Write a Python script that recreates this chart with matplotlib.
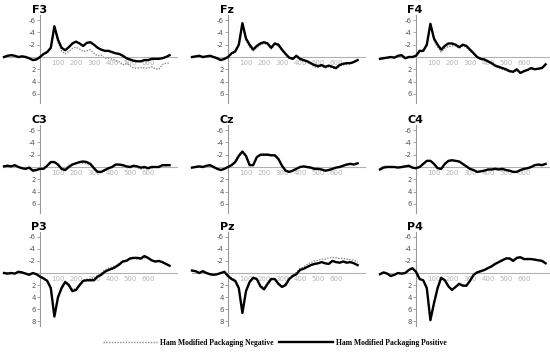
import numpy as np
import matplotlib
matplotlib.use("Agg")
import matplotlib.pyplot as plt

plt.rcParams['axes.unicode_minus'] = False

# sampling times (ms)
time = np.arange(-200, 721, 20)

channels = ["F3", "Fz", "F4", "C3", "Cz", "C4", "P3", "Pz", "P4"]

# Ham Modified Packaging Positive (solid)
pos = {
    "F3": [0.0,-0.2,-0.3,-0.2,0.0,-0.1,0.0,0.2,0.5,0.4, 0.0,-0.5,-0.8,-1.5,-5.0,-2.8,-1.5,-1.1,-1.6,-2.2,
           -2.5,-2.2,-1.8,-2.3,-2.4,-2.0,-1.5,-1.2,-1.0,-1.0, -0.8,-0.6,-0.5,-0.2,0.2,0.4,0.6,0.7,0.7,0.5,
           0.5,0.3,0.3,0.3,0.2,0.0,-0.3],
    "Fz": [0.0,-0.1,-0.2,0.0,-0.1,-0.2,0.0,0.2,0.5,0.3, 0.0,-0.6,-0.9,-2.0,-5.5,-3.0,-2.0,-1.2,-1.8,-2.2,
           -2.4,-2.2,-1.5,-2.2,-2.0,-1.2,-0.5,0.1,0.3,-0.2, 0.3,0.5,0.7,1.0,1.3,1.5,1.3,1.6,1.4,1.6,
           1.8,1.3,1.1,1.0,1.0,0.8,0.5],
    "F4": [0.3,0.2,0.1,0.0,0.1,-0.2,-0.3,0.2,0.0,0.0, -0.2,-1.0,-1.0,-2.0,-5.4,-3.0,-2.0,-1.2,-1.8,-2.2,
           -2.2,-2.0,-1.6,-2.0,-1.8,-1.2,-0.6,0.0,0.3,0.4, 0.7,1.0,1.4,1.6,1.8,2.0,2.3,2.4,2.0,2.6,
           2.3,2.1,1.8,2.0,1.9,1.8,1.2],
    "C3": [-0.1,-0.2,-0.1,-0.3,0.0,0.2,0.3,0.1,0.6,0.5, 0.3,0.3,-0.2,-0.8,-0.8,-0.4,0.3,0.5,0.0,-0.4,
           -0.6,-0.8,-0.9,-0.8,-0.5,0.2,0.8,0.8,0.5,0.2, 0.0,-0.4,-0.4,-0.3,-0.1,0.0,-0.2,-0.1,0.1,0.0,
           0.2,0.0,0.0,0.0,-0.3,-0.3,-0.3],
    "Cz": [0.1,0.0,-0.1,0.0,-0.2,-0.3,0.0,0.3,0.5,0.3, 0.0,-0.3,-0.8,-1.8,-2.5,-1.8,-0.3,-0.3,-1.6,-2.0,
           -2.0,-2.0,-1.9,-1.9,-1.3,-0.2,0.6,0.8,0.6,0.3, 0.0,-0.1,0.0,0.1,0.3,0.3,0.4,0.6,0.5,0.3,
           0.1,0.0,-0.2,-0.4,-0.5,-0.4,-0.6],
    "C4": [0.4,0.1,0.0,0.0,0.0,0.1,0.0,-0.1,-0.2,0.1, 0.2,0.0,-0.5,-1.0,-1.0,-0.5,0.2,0.3,-0.5,-1.0,
           -1.1,-1.0,-0.9,-0.5,-0.1,0.3,0.5,0.8,0.7,0.6, 0.4,0.4,0.3,0.4,0.3,0.5,0.6,0.8,0.8,0.5,
           0.3,0.2,0.0,-0.3,-0.4,-0.3,-0.5],
    "P3": [0.0,0.1,0.0,0.1,-0.2,-0.1,0.1,0.3,0.0,0.2, 0.6,0.9,1.3,2.5,7.2,4.0,2.5,1.5,2.0,3.0,
           2.8,2.0,1.3,1.2,1.2,1.2,0.6,0.3,-0.2,-0.5, -0.7,-1.0,-1.4,-1.9,-2.0,-2.4,-2.5,-2.5,-2.4,-2.8,
           -2.5,-2.1,-1.9,-2.0,-1.8,-1.5,-1.2],
    "Pz": [-0.4,-0.3,0.0,-0.3,0.0,0.2,0.3,0.2,0.0,-0.2, 0.5,1.0,1.3,2.5,6.6,3.0,1.5,0.8,1.0,2.2,
           2.7,1.8,1.0,1.0,1.8,2.3,2.0,1.0,0.5,0.2, -0.5,-0.7,-1.0,-1.3,-1.5,-1.6,-1.8,-1.6,-1.5,-2.0,
           -1.8,-1.7,-1.9,-1.7,-1.8,-1.6,-1.3],
    "P4": [0.2,-0.1,0.1,0.5,0.3,0.0,0.1,0.0,-0.5,-0.8, -0.2,1.0,1.2,2.5,7.8,5.0,2.5,0.8,1.2,2.2,
           2.8,2.3,1.8,2.1,2.1,1.3,0.3,-0.1,-0.3,-0.5, -0.8,-1.1,-1.5,-1.8,-2.1,-2.4,-2.4,-2.0,-2.5,-2.6,
           -2.3,-2.3,-2.3,-2.2,-2.1,-2.0,-1.6],
}

# Ham Modified Packaging Negative (dotted)
neg = {
    "F3": [0.1,-0.1,-0.3,-0.1,0.1,-0.2,-0.1,0.3,0.4,0.3, 0.0,-0.4,-0.7,-1.6,-4.8,-2.4,-1.0,-0.5,-0.9,-1.4,
           -1.6,-1.3,-0.9,-1.0,-1.2,-0.6,-0.2,-0.3,0.2,0.2, 0.3,0.6,0.8,1.3,1.0,1.4,1.8,1.8,1.7,1.8,
           1.8,1.6,1.9,2.0,1.2,1.0,1.0],
    "Fz": [0.1,0.0,-0.2,0.1,0.0,-0.1,0.1,0.3,0.6,0.4, 0.1,-0.5,-0.8,-1.9,-5.3,-2.7,-1.6,-1.0,-1.5,-2.0,
           -2.2,-2.0,-1.3,-2.0,-1.8,-1.0,-0.4,0.2,0.4,0.0, 0.5,0.7,0.9,1.2,1.6,1.7,1.5,1.8,1.6,1.8,
           1.9,1.5,1.3,1.2,1.1,0.9,0.6],
    "F4": [0.3,0.2,0.2,0.1,0.1,-0.1,-0.2,0.2,0.1,0.0, -0.1,-0.8,-0.9,-1.8,-5.2,-2.7,-1.6,-0.8,-1.4,-1.7,
           -1.8,-1.8,-1.4,-1.8,-1.6,-1.0,-0.5,0.1,0.4,0.6, 0.8,1.1,1.5,1.8,2.0,2.2,2.4,2.5,2.2,2.6,
           2.3,2.1,1.9,2.0,1.9,1.8,1.3],
    "C3": [-0.1,-0.3,-0.2,-0.2,0.0,0.1,0.2,0.1,0.4,0.4, 0.2,0.2,-0.3,-0.9,-0.9,-0.3,0.2,0.2,-0.3,-0.5,
           -0.6,-0.7,-0.6,-0.5,-0.3,0.3,0.8,0.8,0.6,0.3, 0.1,-0.3,-0.3,-0.2,0.1,0.1,0.0,0.1,0.3,0.2,
           0.3,0.2,0.0,-0.1,-0.3,-0.2,-0.3],
    "Cz": [0.1,-0.1,-0.2,0.0,-0.1,-0.2,0.1,0.3,0.4,0.3, 0.0,-0.4,-1.0,-2.0,-2.7,-1.9,-0.5,-0.4,-1.5,-2.0,
           -2.1,-2.1,-2.0,-1.9,-1.4,-0.3,0.5,0.7,0.5,0.2, 0.0,-0.1,0.1,0.2,0.4,0.4,0.5,0.6,0.4,0.3,
           0.1,-0.1,-0.3,-0.5,-0.6,-0.5,-0.7],
    "C4": [0.3,-0.2,-0.1,-0.1,0.0,0.0,0.1,0.0,-0.1,0.1, 0.2,0.0,-0.4,-0.9,-1.1,-0.6,0.1,0.3,-0.4,-0.9,
           -1.0,-1.0,-0.8,-0.5,0.0,0.3,0.6,0.8,0.7,0.5, 0.5,0.4,0.4,0.4,0.4,0.5,0.6,0.7,0.7,0.5,
           0.3,0.1,-0.1,-0.3,-0.4,-0.4,-0.5],
    "P3": [0.0,0.0,0.1,0.0,-0.1,0.0,0.1,0.2,0.1,0.2, 0.5,0.8,1.2,2.3,7.0,3.8,2.2,1.3,1.8,2.7,
           2.6,1.8,1.2,1.0,1.0,0.9,0.4,0.0,-0.5,-0.8, -1.0,-1.2,-1.6,-2.0,-2.2,-2.3,-2.4,-2.3,-2.2,-2.5,
           -2.4,-2.1,-1.8,-1.9,-1.7,-1.4,-1.1],
    "Pz": [-0.4,-0.3,-0.1,-0.2,0.1,0.3,0.4,0.2,0.0,-0.1, 0.4,0.8,1.1,2.3,6.4,2.8,1.3,0.7,0.9,2.0,
           2.5,1.6,0.9,0.9,1.6,2.1,1.8,0.8,0.3,-0.1, -0.7,-1.0,-1.4,-1.7,-2.0,-2.1,-2.3,-2.3,-2.5,-2.6,
           -2.5,-2.4,-2.4,-2.3,-2.2,-2.1,-1.8],
    "P4": [0.2,0.0,0.1,0.4,0.3,0.1,0.1,0.0,-0.4,-0.7, -0.2,0.9,1.2,2.4,7.6,4.8,2.3,0.7,1.1,2.1,
           2.7,2.2,1.7,2.0,2.0,1.2,0.2,-0.2,-0.4,-0.6, -0.9,-1.2,-1.6,-1.9,-2.2,-2.5,-2.5,-2.2,-2.6,-2.7,
           -2.4,-2.4,-2.4,-2.3,-2.2,-2.1,-1.7],
}

xticks = [100, 200, 300, 400, 500, 600]
yticks_top = [-6, -4, -2, 2, 4, 6]
yticks_bot = [-6, -4, -2, 2, 4, 6, 8]

W, H = 550, 353
fig = plt.figure(figsize=(5.5, 3.53), dpi=100)

x_lo, x_hi, ppms = -210, 760, 0.18
col_zero = [40, 228, 416]
# row: (pixel of zero line, px per uV, top limit, bottom limit)
rows = [(57, 6.15, -6.8, 7.5), (167, 6.15, -6.8, 7.5), (273, 6.05, -6.8, 8.8)]

line_pos = line_neg = None
for i, ch in enumerate(channels):
    r, c = divmod(i, 3)
    z, ppu, ytop, ybot = rows[r]
    left = col_zero[c] + x_lo * ppms
    top = z + ytop * ppu
    bot = z + ybot * ppu
    ax = fig.add_axes([left / W, 1 - bot / H, (x_hi - x_lo) * ppms / W, (bot - top) / H])

    line_neg, = ax.plot(time, neg[ch], color='#8c8c8c', lw=1.0, ls=(0, (1, 1)), zorder=2)
    line_pos, = ax.plot(time, pos[ch], color='black', lw=1.7, zorder=3)

    ax.set_xlim(x_lo, x_hi)
    ax.set_ylim(ybot, ytop)
    for s in ['top', 'right']:
        ax.spines[s].set_visible(False)
    ax.spines['left'].set_position(('data', 0))
    ax.spines['bottom'].set_position(('data', 0))
    ax.spines['left'].set_color('#9a9a9a')
    ax.spines['bottom'].set_color('#b0b0b0')
    ax.spines['bottom'].set_bounds(-200, x_hi)

    ax.set_xticks(xticks)
    ax.set_xticklabels([str(t) for t in xticks])
    ax.tick_params(axis='x', length=0, pad=2, labelsize=5, labelcolor='#b5b5b5')
    yt = yticks_bot if r == 2 else yticks_top
    ax.set_yticks(yt)
    ax.set_yticklabels([str(t) for t in yt])
    ax.tick_params(axis='y', length=2, width=0.6, color='#9a9a9a', pad=1,
                   labelsize=5, labelcolor='#555555')
    ax.patch.set_alpha(0)

    ax.text(-5, 1.0, ch, transform=ax.get_xaxis_transform(), ha='center', va='bottom',
            fontsize=8, fontweight='bold')

fig.legend([line_neg, line_pos],
           ['Ham Modified Packaging Negative', 'Ham Modified Packaging Positive'],
           loc='center', bbox_to_anchor=(0.5, 0.028), ncol=2, frameon=False,
           handlelength=7, columnspacing=0.8, handletextpad=0.4,
           prop={'family': 'Liberation Serif', 'weight': 'bold', 'size': 5.5})

fig.savefig('out.png', dpi=100)
